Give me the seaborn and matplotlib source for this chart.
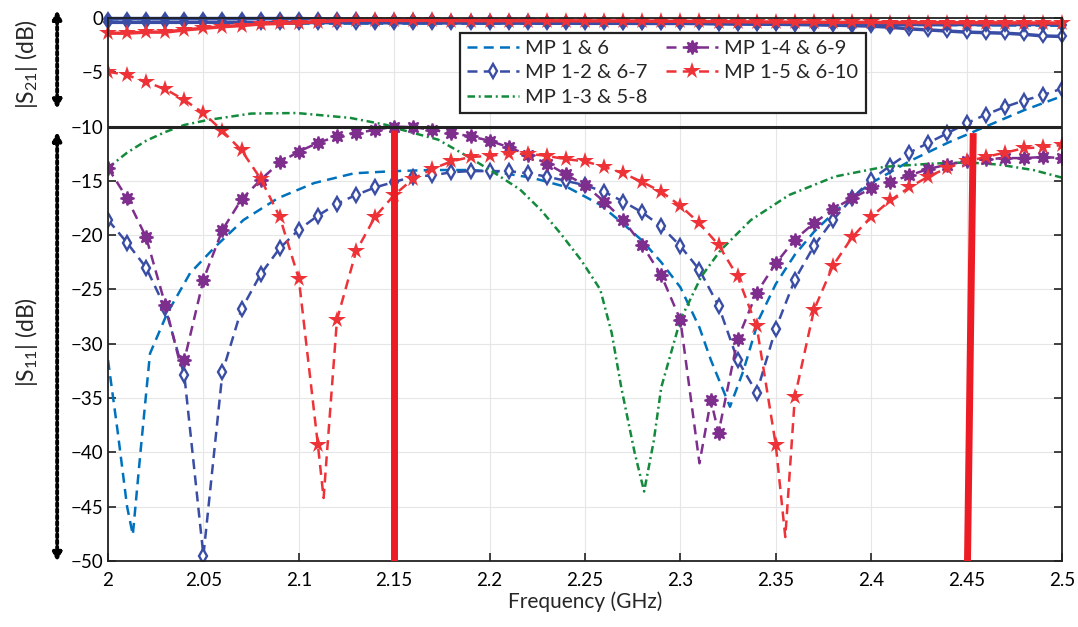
import numpy as np
import pandas as pd
import matplotlib
matplotlib.use('Agg')
import matplotlib.pyplot as plt
import seaborn as sns

# ── dados ──────────────────────────────────────────────────
freq = [2.00, 2.01, 2.02, 2.03, 2.04, 2.05, 2.06, 2.07, 2.08, 2.09,
        2.10, 2.11, 2.12, 2.13, 2.14, 2.15, 2.16, 2.17, 2.18, 2.19,
        2.20, 2.21, 2.22, 2.23, 2.24, 2.25, 2.26, 2.27, 2.28, 2.29,
        2.30, 2.31, 2.32, 2.33, 2.34, 2.35, 2.36, 2.37, 2.38, 2.39,
        2.40, 2.41, 2.42, 2.43, 2.44, 2.45, 2.46, 2.47, 2.48, 2.49, 2.50]

# MP 1 & 6 (sem marcadores)
f_mp16 = [2.000, 2.005, 2.010, 2.013, 2.017, 2.022, 2.031, 2.043, 2.056, 2.071,
          2.089, 2.108, 2.129, 2.150, 2.170, 2.190, 2.200, 2.222, 2.241, 2.258,
          2.269, 2.280, 2.290, 2.300, 2.310, 2.316, 2.326, 2.333, 2.341, 2.350,
          2.360, 2.370, 2.380, 2.390, 2.400, 2.420, 2.440, 2.460, 2.480, 2.500]
s11_mp16 = [-31.5, -38.0, -45.0, -47.6, -40.0, -30.9, -27.2, -23.5, -21.1, -18.6,
            -16.6, -15.2, -14.3, -14.1, -14.0, -14.0, -14.1, -14.7, -15.6, -17.2,
            -18.8, -20.5, -22.5, -24.8, -28.5, -31.5, -35.8, -32.5, -27.8, -24.5,
            -21.8, -19.7, -18.0, -16.5, -15.2, -13.2, -11.5, -10.0, -8.5, -7.2]
f_mp16_s21 = [2.00, 2.10, 2.20, 2.30, 2.40, 2.50]
s21_mp16 = [-0.35, -0.5, -0.5, -0.5, -0.6, -0.7]

# MP 1-2 & 6-7 (losangos)
s11_mp12 = [-18.6, -20.7, -23.0, -26.7, -32.9, -49.5, -32.6, -26.8, -23.6, -21.2,
            -19.5, -18.2, -17.1, -16.3, -15.6, -15.1, -14.6, -14.5, -14.2, -14.1,
            -14.1, -14.1, -14.3, -14.6, -15.0, -15.4, -16.0, -16.9, -17.9, -19.2,
            -21.0, -23.2, -26.5, -31.5, -34.5, -28.6, -24.1, -21.0, -18.6, -16.6,
            -14.9, -13.6, -12.4, -11.5, -10.6, -9.7, -8.9, -8.2, -7.6, -7.1, -6.5]
s21_mp12_a = [-0.05, -0.05, -0.05, -0.05, -0.05, -0.05, -0.05, -0.05, -0.05, -0.05,
              -0.05, -0.08, -0.1, -0.12, -0.15, -0.18, -0.2, -0.22, -0.24, -0.26,
              -0.28, -0.3, -0.32, -0.34, -0.36, -0.38, -0.4, -0.42, -0.44, -0.46,
              -0.48, -0.5, -0.52, -0.54, -0.55, -0.56, -0.57, -0.58, -0.59, -0.6,
              -0.6, -0.6, -0.6, -0.6, -0.6, -0.6, -0.6, -0.6, -0.6, -0.6, -0.6]
s21_mp12_b = [-0.4, -0.4, -0.4, -0.4, -0.4, -0.4, -0.4, -0.4, -0.42, -0.42,
              -0.42, -0.42, -0.43, -0.43, -0.44, -0.44, -0.45, -0.45, -0.46, -0.46,
              -0.47, -0.47, -0.48, -0.48, -0.48, -0.49, -0.49, -0.49, -0.5, -0.5,
              -0.5, -0.5, -0.52, -0.54, -0.56, -0.58, -0.6, -0.63, -0.66, -0.7,
              -0.75, -0.85, -1.0, -1.1, -1.2, -1.3, -1.35, -1.4, -1.5, -1.65, -1.7]

# MP 1-3 & 5-8 (traço-ponto)
f_mp13 = [2.000, 2.010, 2.020, 2.030, 2.040, 2.052, 2.075, 2.099, 2.127, 2.146,
          2.152, 2.173, 2.190, 2.202, 2.216, 2.227, 2.237, 2.248, 2.258, 2.264,
          2.269, 2.276, 2.281, 2.286, 2.290, 2.300, 2.311, 2.321, 2.337, 2.357,
          2.381, 2.407, 2.433, 2.451, 2.467, 2.485, 2.500]
s11_mp13 = [-13.8, -12.4, -11.3, -10.5, -9.85, -9.4, -8.8, -8.75, -9.2, -9.85,
            -10.2, -11.2, -12.9, -14.2, -15.8, -17.7, -19.8, -22.3, -25.0, -29.0,
            -34.0, -40.0, -43.6, -39.0, -34.0, -27.8, -23.8, -21.4, -18.6, -16.3,
            -14.6, -13.7, -13.4, -13.3, -13.5, -14.0, -14.7]

# MP 1-4 & 6-9 (asteriscos)
f_mp14 = freq[:4] + [2.038] + freq[4:31] + [2.316] + freq[31:]
s11_mp14 = [-13.8, -16.6, -20.2, -26.4, -32.0, -31.5, -24.1, -19.5, -16.7, -14.9,
            -13.3, -12.3, -11.5, -10.9, -10.6, -10.3, -10.0, -10.05, -10.3, -10.6,
            -10.9, -11.3, -11.9, -12.6, -13.4, -14.4, -15.4, -16.9, -18.6, -20.9,
            -23.7, -27.8, -35.2, -41.0, -38.2, -29.6, -25.3, -22.6, -20.4, -18.9,
            -17.6, -16.6, -15.7, -15.1, -14.5, -13.9, -13.5, -13.2, -13.0, -12.9,
            -12.9, -12.8, -12.9]

# MP 1-5 & 6-10 (estrelas)
f_mp15 = freq[:12] + [2.113] + freq[12:36] + [2.355] + freq[36:]
s11_mp15 = [-4.95, -5.25, -5.9, -6.55, -7.55, -8.75, -10.4, -12.2, -14.8, -18.3,
            -24.0, -39.3, -44.2, -27.8, -21.5, -18.3, -16.3, -14.8, -13.9, -13.2,
            -12.8, -12.7, -12.5, -12.5, -12.7, -13.0, -13.2, -13.7, -14.3, -15.1,
            -16.0, -17.3, -18.9, -20.9, -23.8, -28.4, -39.3, -47.8, -34.9, -26.9,
            -22.8, -20.2, -18.3, -16.8, -15.6, -14.6, -13.8, -13.2, -12.8, -12.4,
            -12.0, -11.9, -11.7]
s21_mp15 = [-1.4, -1.4, -1.3, -1.3, -1.1, -0.95, -0.8, -0.7, -0.55, -0.5,
            -0.45, -0.35, -0.25, -0.2, -0.2, -0.22, -0.22, -0.22, -0.24, -0.24,
            -0.25, -0.25, -0.25, -0.26, -0.26, -0.27, -0.27, -0.28, -0.28, -0.3,
            -0.3, -0.32, -0.33, -0.35, -0.36, -0.37, -0.38, -0.38, -0.4, -0.4,
            -0.4, -0.42, -0.42, -0.43, -0.43, -0.44, -0.44, -0.45, -0.45, -0.46, -0.47]

labels = ['MP 1 & 6', 'MP 1-2 & 6-7', 'MP 1-3 & 5-8', 'MP 1-4 & 6-9', 'MP 1-5 & 6-10']
c_lblue, c_dblue, c_green, c_purple, c_red = '#0072BD', '#3A4DA5', '#138A3C', '#7E2F8E', '#EE3338'
band_edges = [2.15, 2.45]

# ── estilo ─────────────────────────────────────────────────
sns.set_style('whitegrid', {'grid.color': '#E6E6E6', 'axes.edgecolor': '#222222'})
plt.rcParams['font.family'] = ['Lato', 'DejaVu Sans']
plt.rcParams['mathtext.default'] = 'regular'

fig = plt.figure(figsize=(10.78, 6.27), dpi=100)
ax = fig.add_axes([0.1002, 0.1053, 0.8849, 0.8660])


def on_grid(xs):
    # marcadores só nos pontos de 0.01 GHz
    return [i for i, x in enumerate(xs) if abs(round(x * 100) - x * 100) < 1e-6]


# S21 (linhas cheias, topo)
sns.lineplot(x=f_mp16_s21, y=s21_mp16, ax=ax, color=c_lblue, lw=2, ls='--', clip_on=False)
sns.lineplot(x=freq, y=s21_mp12_b, ax=ax, color=c_dblue, lw=2.5, marker='d', ms=6.5,
             mfc='white', mec=c_dblue, mew=1.6, clip_on=False)
sns.lineplot(x=freq, y=s21_mp12_a, ax=ax, color=c_dblue, lw=2.5, marker='d', ms=6.5,
             mfc=c_dblue, mec=c_dblue, mew=1.5, clip_on=False)
sns.lineplot(x=freq, y=s21_mp15, ax=ax, color=c_red, lw=2.5, marker='*', ms=13,
             mec=c_red, mew=0, clip_on=False)

# S11 (tracejadas)
sns.lineplot(x=f_mp16, y=s11_mp16, ax=ax, color=c_lblue, lw=1.8,
             ls=(0, (4, 2.5)), label=labels[0])
sns.lineplot(x=freq, y=s11_mp12, ax=ax, color=c_dblue, lw=1.8, ls=(0, (4, 2.5)),
             marker='d', ms=7, mfc='white', mec=c_dblue, mew=1.7, label=labels[1])
sns.lineplot(x=f_mp13, y=s11_mp13, ax=ax, color=c_green, lw=1.8,
             ls=(0, (3, 1.5, 0.8, 1.5)), label=labels[2])
sns.lineplot(x=f_mp14, y=s11_mp14, ax=ax, color=c_purple, lw=1.8, ls=(0, (4, 2.5)),
             marker=(8, 1, 0), ms=10, mec=c_purple, mew=1.3, markevery=on_grid(f_mp14),
             label=labels[3])
sns.lineplot(x=f_mp15, y=s11_mp15, ax=ax, color=c_red, lw=1.8, ls=(0, (4, 2.5)),
             marker='*', ms=13, mec=c_red, mew=0, markevery=on_grid(f_mp15), label=labels[4])

# limite -10 dB e marcas de banda
ax.axhline(-10, color='#222222', lw=2.2, zorder=6)
ax.plot([band_edges[0], band_edges[0]], [-10.3, -50], color='#ED1C24', lw=5, zorder=7,
        solid_capstyle='butt')
ax.plot([band_edges[1] + 0.0035, band_edges[1] + 0.0005], [-10.6, -50], color='#ED1C24',
        lw=5, zorder=7, solid_capstyle='butt')

ax.set_xlim(2, 2.5)
ax.set_ylim(-50, 0)
ax.set_xticks([2, 2.05, 2.1, 2.15, 2.2, 2.25, 2.3, 2.35, 2.4, 2.45, 2.5])
ax.set_xticklabels(['2', '2.05', '2.1', '2.15', '2.2', '2.25', '2.3', '2.35', '2.4', '2.45', '2.5'])
ax.set_yticks(range(-50, 1, 5))
ax.tick_params(direction='in', length=6, width=1.2, colors='#222222', labelsize=13.5,
               top=True, right=True, bottom=True, left=True, labelcolor='black')
ax.tick_params(axis='x', pad=8)
ax.set_xlabel('Frequency (GHz)', fontsize=15, labelpad=2)
for s in ax.spines.values():
    s.set_linewidth(1.3)

leg = ax.legend(ncol=2, loc='upper left', bbox_to_anchor=(0.369, 0.972), fontsize=14.5,
                frameon=True, fancybox=False, framealpha=1, edgecolor='#222222',
                handlelength=2.6, handletextpad=0.3, columnspacing=0.9,
                labelspacing=0.35, borderpad=0.35, borderaxespad=0)
leg.get_frame().set_linewidth(1.6)
leg.set_zorder(8)

# rótulos do eixo y com setas
fig.text(0.025, 0.898, '|S$_{21}$| (dB)', rotation=90, ha='center', va='center', fontsize=16.5)
fig.text(0.025, 0.455, '|S$_{11}$| (dB)', rotation=90, ha='center', va='center', fontsize=16.5)
for y0, y1 in [(0.984, 0.826), (0.790, 0.104)]:
    ax.annotate('', xy=(0.053, y1), xytext=(0.053, y0), xycoords='figure fraction',
                textcoords='figure fraction',
                arrowprops=dict(arrowstyle='<|-|>', color='black', lw=2.8,
                                ls=(0, (0.8, 0.8)), mutation_scale=12, shrinkA=0, shrinkB=0))

plt.savefig('out.png', dpi=100)
